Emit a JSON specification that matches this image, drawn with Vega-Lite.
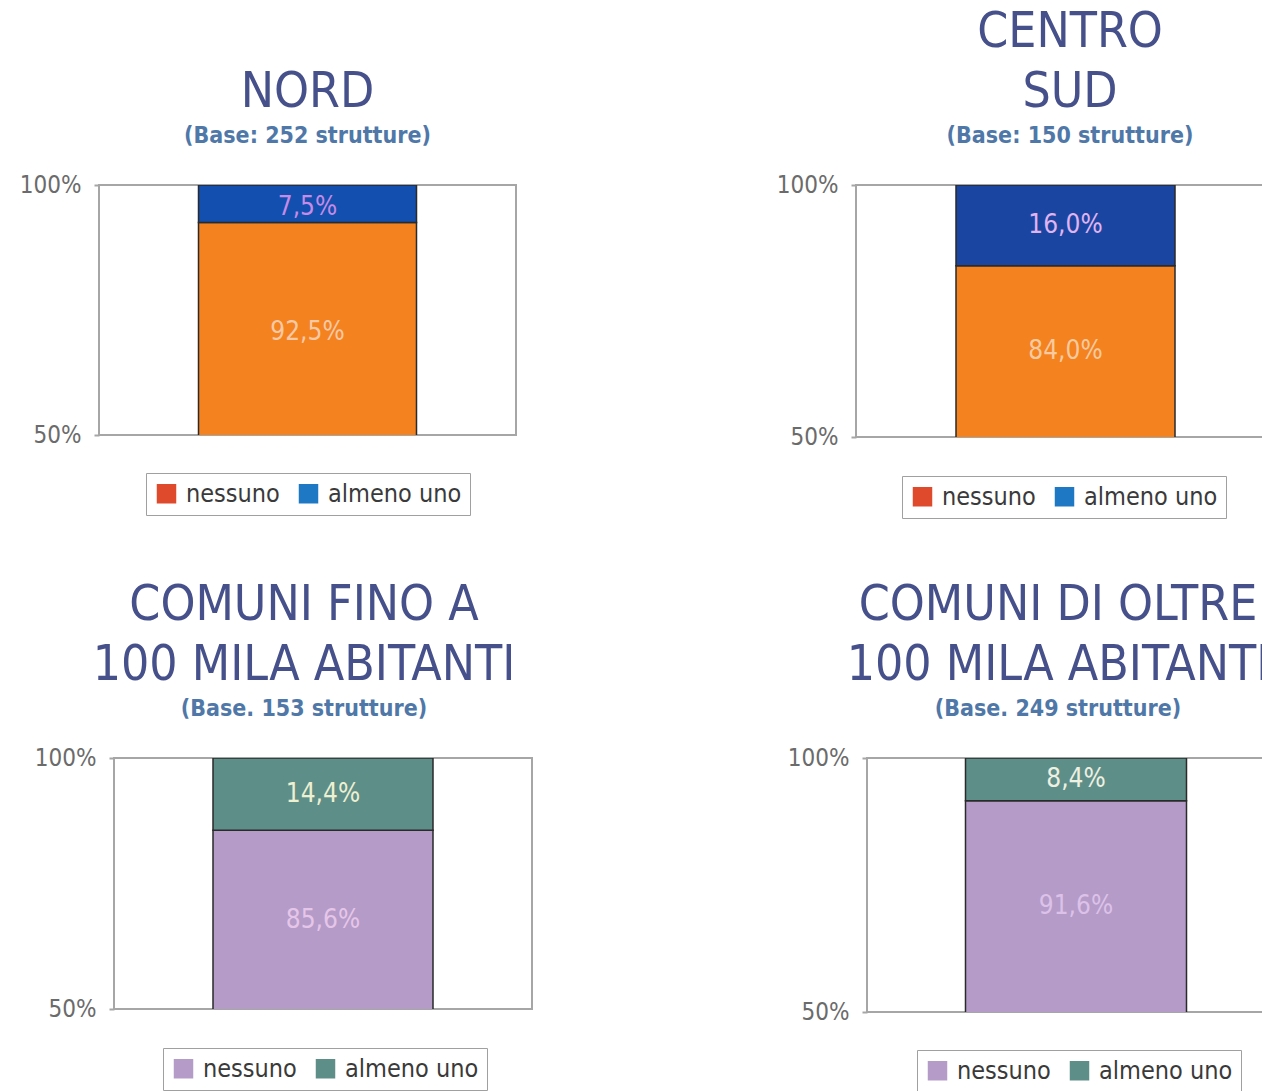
{
  "$schema": "https://vega.github.io/schema/vega-lite/v6.json",
  "padding": {"left": 18, "top": 5, "right": 0, "bottom": 0},
  "background": "#ffffff",
  "data": {"values": [
    {"area": "NORD", "categoria": "nessuno", "valore": 92.5},
    {"area": "NORD", "categoria": "almeno uno", "valore": 7.5},
    {"area": "CENTRO SUD", "categoria": "nessuno", "valore": 84.0},
    {"area": "CENTRO SUD", "categoria": "almeno uno", "valore": 16.0},
    {"area": "COMUNI FINO A 100 MILA ABITANTI", "categoria": "nessuno", "valore": 85.6},
    {"area": "COMUNI FINO A 100 MILA ABITANTI", "categoria": "almeno uno", "valore": 14.4},
    {"area": "COMUNI DI OLTRE 100 MILA ABITANTI", "categoria": "nessuno", "valore": 91.6},
    {"area": "COMUNI DI OLTRE 100 MILA ABITANTI", "categoria": "almeno uno", "valore": 8.4}
  ]},
  "spacing": 58,
  "center": true,
  "vconcat": [
    {
      "bounds": "flush",
      "spacing": 340,
      "resolve": {"scale": {"color": "independent", "fill": "independent", "y": "independent", "x": "independent"}, "legend": {"color": "independent", "fill": "independent"}},
      "hconcat": [
        {
          "width": 417, "height": 250,
          "title": {"text": "NORD", "subtitle": "(Base: 252 strutture)", "dx": 0},
          "transform": [
            {"filter": "datum.area === 'NORD'"},
            {"calculate": "datum.categoria === 'nessuno' ? (50 + datum.valore) / 2 : 100 - datum.valore / 2", "as": "ymid"},
            {"calculate": "replace(format(datum.valore, '.1f'), '.', ',') + '%'", "as": "etichetta"}
          ],
          "encoding": {"x": {"field": "area", "type": "nominal", "axis": null}},
          "layer": [
            {
              "mark": {"type": "bar", "width": 218, "clip": true, "stroke": "#2a2a2a", "strokeWidth": 1.5},
              "encoding": {
                "y": {"field": "valore", "type": "quantitative", "stack": "zero", "scale": {"domain": [50, 100], "nice": false, "zero": false}, "axis": {"values": [50, 100], "labelExpr": "datum.value + '%'", "title": null}},
                "fill": {"field": "categoria", "type": "nominal", "scale": {"domain": ["nessuno", "almeno uno"], "range": ["#f3821f", "#124fae"]}, "legend": null},
                "order": {"field": "categoria", "sort": "descending"}
              }
            },
            {
              "mark": {"type": "square", "opacity": 0, "clip": true},
              "encoding": {
                "y": {"field": "ymid", "type": "quantitative"},
                "color": {"field": "categoria", "type": "nominal", "sort": "descending", "scale": {"range": ["#df4a2c", "#1f78c4"]},
                  "legend": {"title": null, "orient": "none", "legendX": 47, "legendY": 288}}
              }
            },
            {
              "mark": {"type": "text", "fontSize": 26, "font": "DejaVu Sans Condensed", "dy": 3},
              "encoding": {
                "y": {"field": "ymid", "type": "quantitative"},
                "text": {"field": "etichetta"},
                "color": {"condition": {"test": "datum.categoria === 'nessuno'", "value": "#f9c9a6"}, "value": "#c78ae6"}
              }
            }
          ]
        },
        {
          "width": 444, "height": 252,
          "title": {"text": ["CENTRO", "SUD"], "subtitle": "(Base: 150 strutture)", "dx": -8},
          "transform": [
            {"filter": "datum.area === 'CENTRO SUD'"},
            {"calculate": "datum.categoria === 'nessuno' ? (50 + datum.valore) / 2 : 100 - datum.valore / 2", "as": "ymid"},
            {"calculate": "replace(format(datum.valore, '.1f'), '.', ',') + '%'", "as": "etichetta"}
          ],
          "encoding": {"x": {"field": "area", "type": "nominal", "axis": null, "scale": {"paddingInner": 0, "paddingOuter": 0.5, "align": 0.4437}}},
          "layer": [
            {
              "mark": {"type": "bar", "width": 219, "clip": true, "stroke": "#2a2a2a", "strokeWidth": 1.5},
              "encoding": {
                "y": {"field": "valore", "type": "quantitative", "stack": "zero", "scale": {"domain": [50, 100], "nice": false, "zero": false}, "axis": {"values": [50, 100], "labelExpr": "datum.value + '%'", "title": null}},
                "fill": {"field": "categoria", "type": "nominal", "scale": {"domain": ["nessuno", "almeno uno"], "range": ["#f3821f", "#1a46a2"]}, "legend": null},
                "order": {"field": "categoria", "sort": "descending"}
              }
            },
            {
              "mark": {"type": "square", "opacity": 0, "clip": true},
              "encoding": {
                "y": {"field": "ymid", "type": "quantitative"},
                "color": {"field": "categoria", "type": "nominal", "sort": "descending", "scale": {"range": ["#df4a2c", "#1f78c4"]},
                  "legend": {"title": null, "orient": "none", "legendX": 46, "legendY": 291}}
              }
            },
            {
              "mark": {"type": "text", "fontSize": 26, "font": "DejaVu Sans Condensed"},
              "encoding": {
                "y": {"field": "ymid", "type": "quantitative"},
                "text": {"field": "etichetta"},
                "color": {"condition": {"test": "datum.categoria === 'nessuno'", "value": "#f9caa0"}, "value": "#e0b4f0"}
              }
            }
          ]
        }
      ]
    },
    {
      "bounds": "flush",
      "spacing": 335,
      "resolve": {"scale": {"color": "independent", "y": "independent", "x": "independent"}, "legend": {"color": "independent"}},
      "hconcat": [
        {
          "width": 418, "height": 251,
          "title": {"text": ["COMUNI FINO A", "100 MILA ABITANTI"], "subtitle": "(Base. 153 strutture)", "dx": -19},
          "transform": [
            {"filter": "datum.area === 'COMUNI FINO A 100 MILA ABITANTI'"},
            {"calculate": "datum.categoria === 'nessuno' ? (50 + datum.valore) / 2 : 100 - datum.valore / 2", "as": "ymid"},
            {"calculate": "replace(format(datum.valore, '.1f'), '.', ',') + '%'", "as": "etichetta"}
          ],
          "encoding": {"x": {"field": "area", "type": "nominal", "axis": null}},
          "layer": [
            {
              "mark": {"type": "bar", "width": 220, "clip": true, "stroke": "#2a2a2a", "strokeWidth": 1.5},
              "encoding": {
                "y": {"field": "valore", "type": "quantitative", "stack": "zero", "scale": {"domain": [50, 100], "nice": false, "zero": false}, "axis": {"values": [50, 100], "labelExpr": "datum.value + '%'", "title": null}},
                "color": {"field": "categoria", "type": "nominal", "scale": {"domain": ["nessuno", "almeno uno"], "range": ["#b59bc8", "#5e8e88"]},
                  "legend": {"title": null, "orient": "none", "legendX": 49, "legendY": 290}},
                "order": {"field": "categoria", "sort": "descending"}
              }
            },
            {
              "mark": {"type": "text", "fontSize": 26, "font": "DejaVu Sans Condensed"},
              "encoding": {
                "y": {"field": "ymid", "type": "quantitative"},
                "text": {"field": "etichetta"},
                "color": {"condition": {"test": "datum.categoria === 'nessuno'", "value": "#e6c6e8"}, "value": "#eef0d2"}
              }
            }
          ]
        },
        {
          "width": 418, "height": 254,
          "title": {"text": ["COMUNI DI OLTRE", "100 MILA ABITANTI"], "subtitle": "(Base. 249 strutture)", "dx": -18},
          "transform": [
            {"filter": "datum.area === 'COMUNI DI OLTRE 100 MILA ABITANTI'"},
            {"calculate": "datum.categoria === 'nessuno' ? (50 + datum.valore) / 2 : 100 - datum.valore / 2", "as": "ymid"},
            {"calculate": "replace(format(datum.valore, '.1f'), '.', ',') + '%'", "as": "etichetta"}
          ],
          "encoding": {"x": {"field": "area", "type": "nominal", "axis": null}},
          "layer": [
            {
              "mark": {"type": "bar", "width": 221, "clip": true, "stroke": "#2a2a2a", "strokeWidth": 1.5},
              "encoding": {
                "y": {"field": "valore", "type": "quantitative", "stack": "zero", "scale": {"domain": [50, 100], "nice": false, "zero": false}, "axis": {"values": [50, 100], "labelExpr": "datum.value + '%'", "title": null}},
                "color": {"field": "categoria", "type": "nominal", "scale": {"domain": ["nessuno", "almeno uno"], "range": ["#b59bc8", "#5e8e88"]},
                  "legend": {"title": null, "orient": "none", "legendX": 50, "legendY": 292}},
                "order": {"field": "categoria", "sort": "descending"}
              }
            },
            {
              "mark": {"type": "text", "fontSize": 26, "font": "DejaVu Sans Condensed"},
              "encoding": {
                "y": {"field": "ymid", "type": "quantitative"},
                "text": {"field": "etichetta"},
                "color": {"condition": {"test": "datum.categoria === 'nessuno'", "value": "#dcc2e8"}, "value": "#eef0e2"}
              }
            }
          ]
        }
      ]
    }
  ],
  "config": {
    "view": {"stroke": "#a6a6a6", "strokeWidth": 2},
    "axis": {"domain": false, "grid": false, "ticks": true, "tickColor": "#a6a6a6", "tickSize": 5, "tickWidth": 2, "labelFont": "DejaVu Sans Condensed", "labelFontSize": 24, "labelColor": "#6b6b6b", "labelPadding": 13},
    "legend": {"direction": "horizontal", "strokeColor": "#a0a0a0", "fillColor": "#ffffff", "padding": 8, "symbolType": "square", "symbolSize": 380, "symbolStrokeWidth": 0, "symbolOpacity": 1, "labelFont": "DejaVu Sans Condensed", "labelFontSize": 25, "labelColor": "#3a3a3a", "labelOffset": 7, "columnPadding": 16},
    "title": {"font": "DejaVu Sans Condensed", "fontSize": 49.5, "fontWeight": "normal", "color": "#46508a", "lineHeight": 60, "anchor": "middle", "frame": "group", "offset": 24, "subtitleFont": "DejaVu Sans Condensed", "subtitleFontSize": 23, "subtitleFontWeight": "bold", "subtitleColor": "#4f78a8", "subtitlePadding": 8}
  }
}
